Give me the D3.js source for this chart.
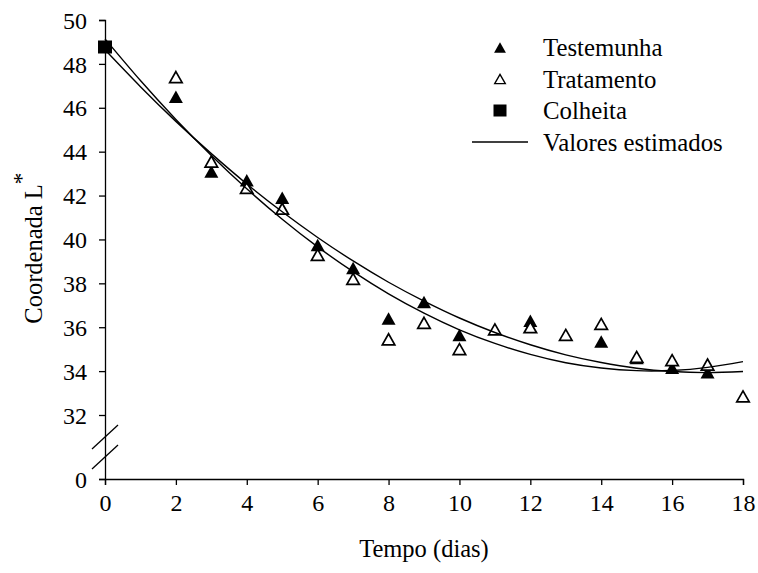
<!DOCTYPE html>
<html><head><meta charset="utf-8">
<script src="https://cdn.jsdelivr.net/npm/d3@7"></script>
<style>
html,body{margin:0;padding:0;background:#fff;}
svg{display:block;}
svg text{font-family:"Liberation Serif","Times New Roman",serif !important;fill:#000;}
</style></head>
<body><svg id="chart" width="758" height="573"></svg>
<script>
// ---- data ----
const xTicks = [0,2,4,6,8,10,12,14,16,18];
const yTicks = [0,32,34,36,38,40,42,44,46,48,50];

const testemunhaDays = [2,3,4,5,6,7,8,9,10,12,14,15,16,17];
const testemunhaL    = [46.5,43.1,42.7,41.9,39.75,38.7,36.4,37.15,35.65,36.3,35.35,34.6,34.15,33.95];

const tratamentoDays = [2,3,4,5,6,7,8,9,10,11,12,13,14,15,16,17,18];
const tratamentoL    = [47.4,43.55,42.35,41.4,39.3,38.2,35.45,36.2,35.0,35.9,36.0,35.65,36.15,34.65,34.5,34.3,32.85];

const colheitaDays = [0];
const colheitaL    = [48.77];

// estimated (fitted) values
const estDays = [0,1,2,3,4,5,6,7,8,9,10,11,12,13,14,15,16,17,18];
const est1 = [48.64,46.96,45.38,43.91,42.53,41.26,40.09,39.02,38.05,37.19,36.42,35.76,35.20,34.74,34.39,34.13,33.98,33.93,33.98];
const est2 = [49.14,47.24,45.47,43.83,42.31,40.92,39.66,38.53,37.52,36.64,35.88,35.26,34.76,34.38,34.14,34.02,34.03,34.17,34.43];

const legendLabels = ["Testemunha","Tratamento","Colheita","Valores estimados"];

// ---- drawing ----
const svg = d3.select("#chart");
const x = d3.scaleLinear().domain([0,18]).range([105,743]);
const y = d3.scaleLinear().domain([0,32,50]).range([479,415,20]);

const fontSize = 24;

// axes
const xAxis = d3.axisBottom(x).tickValues(xTicks).tickSizeOuter(0).tickSize(6).tickPadding(9);
const yAxis = d3.axisLeft(y).tickValues(yTicks).tickSizeOuter(0).tickSize(6).tickPadding(12);

const gx = svg.append("g").attr("transform","translate(0,"+y(0)+")").call(xAxis);
const gy = svg.append("g").attr("transform","translate("+x(0)+",0)").call(yAxis);
[gx,gy].forEach(g=>{
  g.attr("font-family",null).attr("font-size",null);
  g.selectAll("path.domain").attr("stroke","#000").attr("stroke-width",1.3);
  g.selectAll(".tick line").attr("stroke","#000").attr("stroke-width",1.3);
  g.selectAll(".tick text").style("font-size",fontSize+"px").attr("fill","#000");
});
gy.selectAll(".tick text").attr("dy","0.34em");

// axis break marks
const bx = x(0);
[y(32)+22, y(0)-22].forEach(cy=>{
  svg.append("line").attr("x1",bx-13).attr("y1",cy+12).attr("x2",bx+13).attr("y2",cy-12)
    .attr("stroke","#000").attr("stroke-width",1.3);
});

// axis titles
svg.append("text").attr("x",(x(0)+x(18))/2).attr("y",557).attr("text-anchor","middle")
  .style("font-size","24.5px").text("Tempo (dias)");
const yt = svg.append("text").attr("transform","translate(42,"+ (y(39.6)) +") rotate(-90)")
  .attr("text-anchor","middle").style("font-size","24.5px");
yt.append("tspan").text("Coordenada L");
yt.append("tspan").attr("dy","-0.55em").style("font-size","23px").text("*");

// marker shapes
function tri(w,h){ return "M0,"+(-h/2)+"L"+(w/2)+","+(h/2)+"L"+(-w/2)+","+(h/2)+"Z"; }
const filledTri = tri(14,12.5);
const openTri = tri(12.5,11);

const g = svg.append("g");
// filled triangles
g.selectAll("path.testemunha").data(testemunhaDays.map((d,i)=>[d,testemunhaL[i]]))
  .join("path").attr("class","testemunha").attr("d",filledTri)
  .attr("transform",d=>"translate("+x(d[0])+","+y(d[1])+")").attr("fill","#000");
// open triangles
g.selectAll("path.tratamento").data(tratamentoDays.map((d,i)=>[d,tratamentoL[i]]))
  .join("path").attr("class","tratamento").attr("d",openTri)
  .attr("transform",d=>"translate("+x(d[0])+","+y(d[1])+")")
  .attr("fill","#fff").attr("stroke","#000").attr("stroke-width",1.7);

// fitted curves
const line = d3.line().x((d,i)=>x(estDays[i])).y(d=>y(d)).curve(d3.curveNatural);
[est1,est2].forEach(s=>{
  g.append("path").attr("d",line(s)).attr("fill","none").attr("stroke","#000").attr("stroke-width",1.4);
});

// harvest square
g.selectAll("rect.colheita").data(colheitaDays.map((d,i)=>[d,colheitaL[i]]))
  .join("rect").attr("class","colheita")
  .attr("x",d=>x(d[0])-7).attr("y",d=>y(d[1])-6.5).attr("width",14).attr("height",13).attr("fill","#000");

// legend
const lg = svg.append("g");
const lx = 500, ltx = 543, l0 = 56, lstep = 31.5;
legendLabels.forEach((t,i)=>{
  lg.append("text").attr("x",ltx).attr("y",l0+i*lstep).style("font-size","24.8px").text(t);
});
const my = i => l0 + i*lstep - 8.5;
lg.append("path").attr("d",filledTri).attr("transform","translate("+lx+","+my(0)+") scale(0.85)").attr("fill","#000");
lg.append("path").attr("d",openTri).attr("transform","translate("+lx+","+my(1)+") scale(0.85)")
  .attr("fill","#fff").attr("stroke","#000").attr("stroke-width",1.6);
lg.append("rect").attr("x",lx-6.5).attr("y",my(2)-6).attr("width",13).attr("height",12).attr("fill","#000");
lg.append("line").attr("x1",lx-28).attr("x2",lx+28).attr("y1",my(3)).attr("y2",my(3))
  .attr("stroke","#000").attr("stroke-width",1.4);
</script>
</body></html>
